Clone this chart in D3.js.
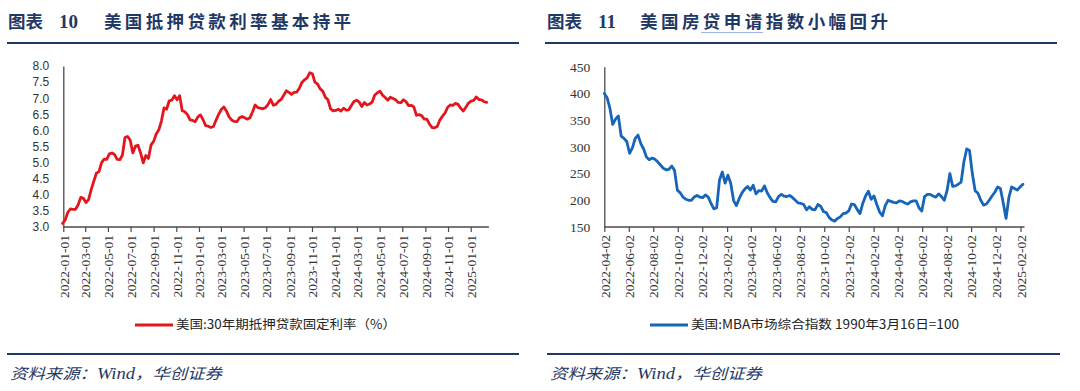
<!DOCTYPE html>
<html><head><meta charset="utf-8">
<script src="https://cdn.jsdelivr.net/npm/d3@7"></script>
<style>
html,body{margin:0;padding:0;background:#fff;}
svg{display:block;}
</style></head>
<body>
<svg id="c" width="1080" height="391"></svg>
<script>
// ---------- DATA ----------
const leftTitleNo = "10";
const leftTitle = "美国抵押贷款利率基本持平";
const rightTitleNo = "11";
const rightTitle = "美国房贷申请指数小幅回升";
const leftLegend = "美国:30年期抵押贷款固定利率（%）";
const rightLegend = "美国:MBA市场综合指数 1990年3月16日=100";
const sourceParts = ["资料来源：", "Wind", "，华创证券"];

// US 30y fixed mortgage rate, weekly from 2021-12-30
const rateStart = "2021-12-30";
const rateValues = [3.11,
 3.22,3.45,3.56,3.55,3.55,3.69,3.92,3.89,3.76,3.85,4.16,4.42,4.67,4.72,5.00,5.11,5.10,5.27,5.30,5.25,5.10,
 5.09,5.23,5.78,5.81,5.70,5.30,5.51,5.54,5.30,4.99,5.22,5.13,5.55,5.66,5.89,6.02,6.29,6.70,6.66,6.92,6.94,7.08,
 6.95,7.08,6.61,6.58,6.49,6.33,6.31,6.27,6.42,
 6.48,6.33,6.15,6.13,6.09,6.12,6.32,6.50,6.65,6.73,6.60,6.42,6.32,6.28,6.27,6.39,6.43,6.39,6.35,6.39,6.57,
 6.79,6.71,6.69,6.67,6.71,6.81,6.96,6.78,6.81,6.90,6.96,7.09,7.23,7.18,7.12,7.18,7.19,7.31,7.49,7.57,7.63,7.79,
 7.76,7.50,7.44,7.29,7.22,7.03,6.95,6.67,6.61,
 6.62,6.66,6.60,6.69,6.63,6.64,6.77,6.90,6.94,6.88,6.74,6.87,6.79,6.82,6.88,7.10,7.17,7.22,7.09,7.02,6.94,7.03,
 6.99,6.95,6.87,6.86,6.95,6.89,6.77,6.78,6.73,6.47,6.49,6.46,6.35,6.35,6.20,6.09,6.08,6.12,6.32,6.44,6.54,6.72,
 6.79,6.78,6.84,6.81,6.69,6.60,6.72,6.85,
 6.91,6.93,7.04,6.96,6.95,6.89,6.87];
const leftTicks = ["2022-01-01","2022-03-01","2022-05-01","2022-07-01","2022-09-01","2022-11-01",
 "2023-01-01","2023-03-01","2023-05-01","2023-07-01","2023-09-01","2023-11-01",
 "2024-01-01","2024-03-01","2024-05-01","2024-07-01","2024-09-01","2024-11-01","2025-01-01"];
const leftYTicks = [3.0,3.5,4.0,4.5,5.0,5.5,6.0,6.5,7.0,7.5,8.0];

// MBA market composite index, weekly from 2022-04-02
const mbaStart = "2022-04-02";
const mbaValues = [400,392,372,342,352,358,320,316,310,288,298,316,322,306,296,281,276,279,277,272,
 266,260,257,258,264,256,219,214,206,202,200,200,206,209,206,205,210,206,194,184,
 186,238,253,232,247,232,200,190,203,214,221,226,219,228,212,218,217,227,214,205,
 198,197,207,211,208,207,209,205,200,195,194,192,182,188,183,182,192,189,179,177,
 168,163,161,166,169,175,176,180,193,192,183,175,194,208,217,202,208,192,178,171,
 190,200,198,196,195,199,198,195,193,197,199,199,186,180,207,211,211,208,206,212,
 207,200,218,250,226,227,230,234,272,296,293,250,218,213,200,191,193,200,208,215,
 225,222,195,166,205,225,222,219,225,230];
const rightTicks = ["2022-04-02","2022-06-02","2022-08-02","2022-10-02","2022-12-02",
 "2023-02-02","2023-04-02","2023-06-02","2023-08-02","2023-10-02","2023-12-02",
 "2024-02-02","2024-04-02","2024-06-02","2024-08-02","2024-10-02","2024-12-02","2025-02-02"];
const rightYTicks = [150,200,250,300,350,400,450];

// ---------- DRAW ----------
const parse = d3.utcParse("%Y-%m-%d");
const svg = d3.select("#c");
const navy = "#1f3864";
const axisColor = "#4a4a4a";

function titles(x0, no, title, noX, titleX, titleLen, lineX1, lineX2) {
  svg.append("text").attr("x", x0).attr("y", 28).text("图表")
    .attr("font-family", "Noto Sans CJK SC").attr("font-weight", 700)
    .attr("font-size", 17.5).attr("fill", navy);
  svg.append("text").attr("x", noX).attr("y", 28).text(no)
    .attr("font-family", "Liberation Serif").attr("font-weight", 700)
    .attr("font-size", 19).attr("fill", navy);
  svg.append("text").attr("x", titleX).attr("y", 28).text(title)
    .attr("font-family", "Noto Sans CJK SC").attr("font-weight", 700)
    .attr("font-size", 17.5).attr("fill", navy)
    .attr("textLength", titleLen).attr("lengthAdjust", "spacing");
  svg.append("line").attr("x1", lineX1).attr("x2", lineX2).attr("y1", 43).attr("y2", 43)
    .attr("stroke", navy).attr("stroke-width", 2);
}
titles(8, leftTitleNo, leftTitle, 59, 104, 247, 7, 519);
titles(547, rightTitleNo, rightTitle, 598, 640, 248, 545, 1057);
// spell-check style underline seen under part of right title
svg.append("line").attr("x1", 701).attr("x2", 763).attr("y1", 32.5).attr("y2", 32.5)
  .attr("stroke", "#9db4e0").attr("stroke-width", 1);

function chart(opt) {
  const x = d3.scaleUtc().domain([parse(opt.ticks[0]), parse(opt.ticks[opt.ticks.length - 1])])
    .range([opt.x0, opt.x1]);
  const y = d3.scaleLinear().domain(opt.yDomain).range([opt.yBottom, opt.yTop]);
  const start = parse(opt.start);
  const data = opt.values.map((v, i) => ({ d: d3.utcDay.offset(start, 7 * i), v }));
  const end = parse(opt.axisEnd);

  const g = svg.append("g");
  // y axis
  const ya = g.append("g").attr("transform", `translate(${opt.x0},0)`)
    .call(d3.axisLeft(y).tickValues(opt.yTicks).tickFormat(opt.yFmt).tickSize(0).tickPadding(14));
  ya.select(".domain").attr("stroke", axisColor).attr("stroke-width", 1.3);
  ya.selectAll("text").attr("font-family", opt.yFont).attr("font-size", opt.yFontSize).attr("fill", "#333");

  // x axis
  const xa = g.append("g").attr("transform", `translate(0,${opt.yBottom})`)
    .call(d3.axisBottom(x).tickValues(opt.ticks.map(parse)).tickFormat(d3.utcFormat("%Y-%m-%d"))
      .tickSize(5).tickSizeOuter(0));
  xa.select(".domain").remove();
  xa.append("line").attr("x1", x(parse(opt.ticks[0]))).attr("x2", x(end))
    .attr("stroke", axisColor).attr("stroke-width", 1.3);
  xa.selectAll(".tick line").attr("stroke", axisColor).attr("stroke-width", 1.2);
  xa.selectAll("text")
    .attr("transform", "rotate(-90)").attr("text-anchor", "end")
    .attr("x", -8).attr("y", 0).attr("dy", "0.35em")
    .attr("font-family", "Liberation Serif").attr("font-size", 13.5).attr("fill", "#333");

  // line
  g.append("path").datum(data)
    .attr("d", d3.line().x(p => x(p.d)).y(p => y(p.v)).curve(d3.curveLinear))
    .attr("fill", "none").attr("stroke", opt.color).attr("stroke-width", 2.8)
    .attr("stroke-linejoin", "round").attr("stroke-linecap", "round");

  // legend
  svg.append("line").attr("x1", opt.legX).attr("x2", opt.legX + 38).attr("y1", 325).attr("y2", 325)
    .attr("stroke", opt.color).attr("stroke-width", 3);
  svg.append("text").attr("x", opt.legX + 41).attr("y", 325).attr("dy", "0.35em")
    .text(opt.legend).attr("font-family", "Noto Sans CJK SC").attr("font-size", 12.5)
    .attr("fill", "#222").attr("textLength", opt.legLen).attr("lengthAdjust", "spacingAndGlyphs");

  // bottom rule and source
  svg.append("line").attr("x1", opt.ruleX1).attr("x2", opt.ruleX2).attr("y1", 354).attr("y2", 354)
    .attr("stroke", navy).attr("stroke-width", 2);
  const st = svg.append("text").attr("x", opt.ruleX1 + 3).attr("y", 379)
    .attr("font-family", "Noto Sans CJK SC").attr("font-style", "italic").attr("font-size", 15)
    .attr("fill", navy).attr("textLength", 212).attr("lengthAdjust", "spacingAndGlyphs");
  sourceParts.forEach((s, i) => {
    const t = st.append("tspan").text(s);
    if (i === 1) t.attr("font-family", "Liberation Serif").attr("font-size", 16);
  });
}

chart({
  ticks: leftTicks, x0: 63.3, x1: 470.7, yDomain: [3, 8], yBottom: 227, yTop: 66,
  yTicks: leftYTicks, yFmt: d3.format(".1f"), yFont: "Liberation Sans", yFontSize: 12,
  start: rateStart, values: rateValues, axisEnd: "2025-02-19", color: "#e3161e",
  legend: leftLegend, legX: 135, legLen: 220, ruleX1: 7, ruleX2: 519
});
chart({
  ticks: rightTicks, x0: 604.3, x1: 1020.5, yDomain: [150, 450], yBottom: 227, yTop: 66.7,
  yTicks: rightYTicks, yFmt: d3.format("d"), yFont: "Liberation Serif", yFontSize: 13.5,
  start: mbaStart, values: mbaValues, axisEnd: "2025-02-12", color: "#1665b9",
  legend: rightLegend, legX: 650, legLen: 268, ruleX1: 547, ruleX2: 1060
});
</script>
</body></html>
